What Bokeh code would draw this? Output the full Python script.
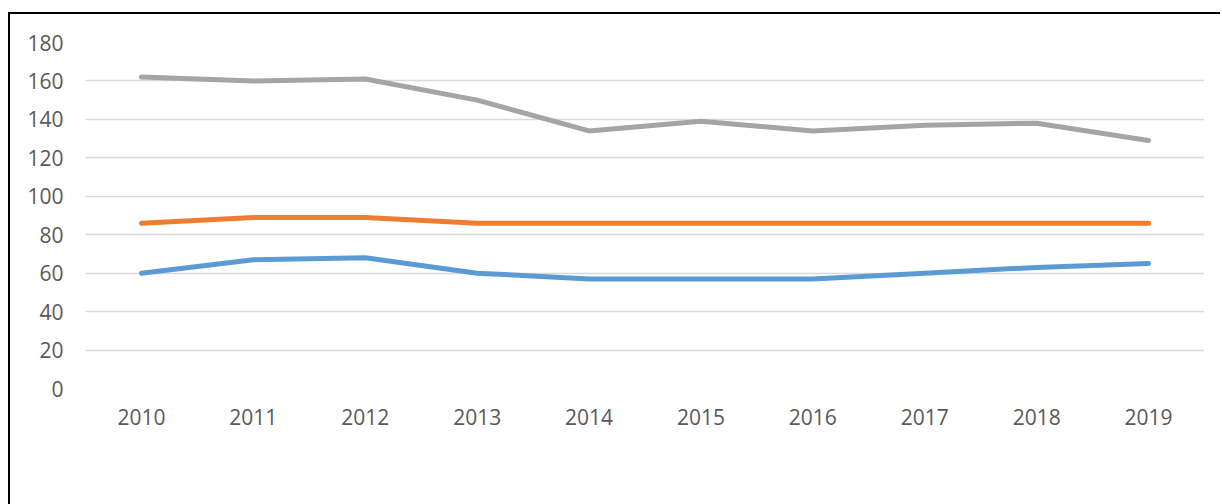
from bokeh.plotting import figure
from bokeh.models import Range1d, FixedTicker, Legend, LegendItem, FactorRange
from bokeh.embed import file_html
from bokeh.resources import INLINE

years = ["2010", "2011", "2012", "2013", "2014", "2015", "2016", "2017", "2018", "2019"]
kasumiaruanne = [60, 67, 68, 60, 57, 57, 57, 60, 63, 65]
bilanss = [86, 89, 89, 86, 86, 86, 86, 86, 86, 86]
rahavoogude_aruanne = [162, 160, 161, 150, 134, 139, 134, 137, 138, 129]
y_ticks = [0, 20, 40, 60, 80, 100, 120, 140, 160, 180]

FONT = "Open Sans"
TXT = "#595959"

p = figure(x_range=FactorRange(*years), y_range=Range1d(0, 180),
           width=1210, height=490, frame_width=1119, frame_height=346,
           output_backend="svg", toolbar_location=None,
           min_border_left=75, min_border_right=16, min_border_top=28, min_border_bottom=0)
p.styles = {"border-top": "2px solid black", "border-left": "2px solid black",
            "margin-top": "12px", "margin-left": "8px"}
p.outline_line_color = None
p.background_fill_color = "white"
p.border_fill_color = "white"

p.xgrid.grid_line_color = None
p.ygrid.grid_line_color = "#d9d9d9"
p.ygrid.grid_line_width = 1.3
p.yaxis.ticker = FixedTicker(ticks=y_ticks)

for ax in (p.xaxis[0], p.yaxis[0]):
    ax.axis_line_color = None
    ax.major_tick_line_color = None
    ax.minor_tick_line_color = None
    ax.major_label_text_font = FONT
    ax.major_label_text_font_size = "21px"
    ax.major_label_text_color = TXT
p.xaxis.major_label_standoff = 14
p.yaxis.major_label_standoff = 16

common = dict(line_width=5, line_cap="round", line_join="round")
r1 = p.line(years, kasumiaruanne, line_color="#5B9BD5", **common)
r2 = p.line(years, bilanss, line_color="#ED7D31", **common)
r3 = p.line(years, rahavoogude_aruanne, line_color="#A5A5A5", **common)

legend = Legend(items=[LegendItem(label="Kasumiaruanne", renderers=[r1]),
                       LegendItem(label="Bilanss", renderers=[r2]),
                       LegendItem(label="Rahavoogude aruanne", renderers=[r3])],
                orientation="horizontal", location="center",
                padding=0, margin=0, spacing=37, glyph_width=54, glyph_height=28,
                label_height=28, label_standoff=5,
                label_text_font=FONT, label_text_font_size="20px", label_text_color=TXT,
                border_line_color=None, background_fill_alpha=0)
p.add_layout(legend, "below")

open("out.html", "w").write(file_html(p, INLINE))
